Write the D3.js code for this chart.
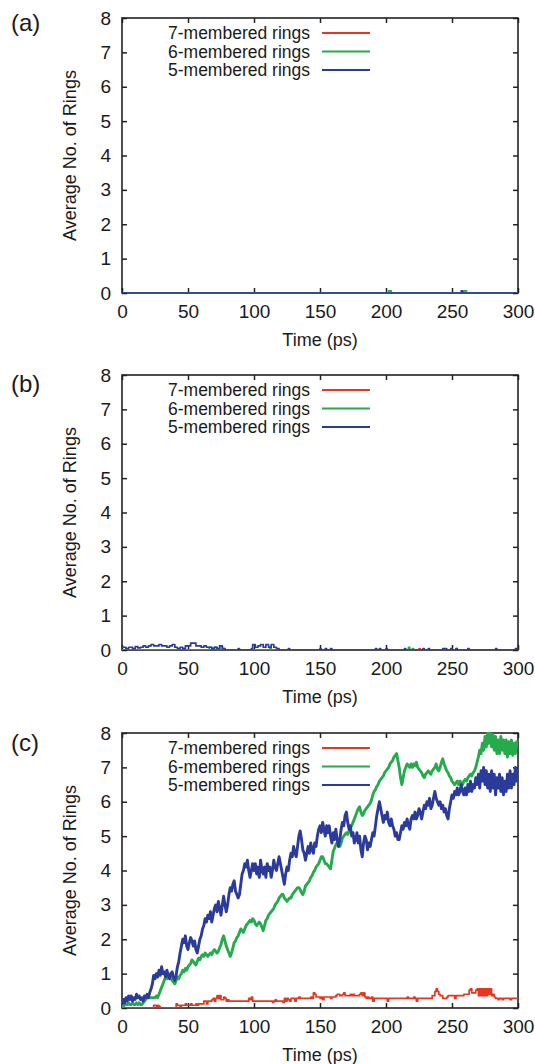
<!DOCTYPE html>
<html>
<head>
<meta charset="utf-8">
<script src="https://cdn.jsdelivr.net/npm/d3@7"></script>
<style>
	body {margin: 0; background: #fff}
	text {font-family: "Liberation Sans", Arial, sans-serif; fill: #1a1a1a}
</style>
</head>
<body>
<svg id="chart" width="535" height="1064"></svg>
<script>

var panelLabels = ['(a)', '(b)', '(c)']
var seriesNames = ['7-membered rings', '6-membered rings', '5-membered rings']
var seriesColors = ['#e5361f', '#25ab4c', '#2b3b9b']
var xTicks = [0, 50, 100, 150, 200, 250, 300]
var yTicks = [0, 1, 2, 3, 4, 5, 6, 7, 8]
var xTitle = 'Time (ps)'
var yTitle = 'Average No. of Rings'

// panels (a) and (b): sparse [time, value] steps, everything else is zero
var redA = [[0, 0], [300, 0]]
var greenA = [[0, 0], [202, 0.06], [204, 0], [259, 0.06], [261, 0], [300, 0]]
var blueA = [[0, 0], [257, 0.06], [258, 0], [300, 0]]

var redB = [[0, 0], [225, 0.04], [226, 0], [300, 0]]
var greenB = [[0, 0], [66, 0.08], [68, 0.04], [70, 0.08], [72, 0], [74, 0.12], [76, 0.04], [78, 0],
	[112, 0.08], [113, 0], [217, 0.08], [218, 0], [220, 0.04], [221, 0], [253, 0.04], [254, 0], [300, 0]]
var blueB = [[0, 0.08], [3, 0.04], [5, 0.08], [8, 0.04], [10, 0.1], [12, 0.06], [14, 0.08], [16, 0.12],
	[18, 0.08], [20, 0.12], [22, 0.16], [24, 0.12], [26, 0.12], [28, 0.16], [30, 0.12], [32, 0.12],
	[34, 0.08], [36, 0.12], [38, 0.16], [40, 0.08], [42, 0.04], [44, 0.08], [46, 0.04], [48, 0.12],
	[50, 0.12], [52, 0.2], [54, 0.2], [56, 0.12], [58, 0.12], [60, 0.08], [62, 0.12], [64, 0.08],
	[66, 0.08], [68, 0.04], [70, 0.08], [72, 0.04], [74, 0.12], [76, 0.04], [78, 0], [88, 0.04], [89, 0],
	[98, 0.04], [99, 0.16], [101, 0.08], [103, 0.12], [105, 0.16], [107, 0.08], [109, 0.16], [111, 0.08],
	[113, 0.16], [115, 0.08], [117, 0.04], [119, 0], [126, 0.04], [127, 0], [150, 0.04], [151, 0],
	[154, 0.04], [155, 0], [158, 0.04], [159, 0], [192, 0.04], [193, 0], [195, 0.04], [196, 0],
	[200, 0.04], [201, 0], [214, 0.04], [215, 0], [228, 0.04], [229, 0], [232, 0.04], [233, 0],
	[243, 0.04], [245, 0.04], [246, 0], [249, 0.04], [250, 0], [253, 0.04], [254, 0], [262, 0.04],
	[263, 0], [283, 0.04], [284, 0], [298, 0.04], [299, 0], [300, 0]]

// panel (c): one value per ps, t = 0..300
var redC = [
	0, 0, 0, 0, 0, 0, 0, 0, 0, 0,
	0, 0, 0, 0, 0, 0, 0, 0, 0, 0,
	0, 0, 0, 0, 0.08, 0.08, 0.04, 0.08, 0.04, 0,
	0, 0, 0, 0, 0, 0, 0, 0, 0, 0,
	0, 0.12, 0.08, 0.08, 0.04, 0.08, 0.08, 0.08, 0.12, 0.08,
	0.08, 0.08, 0.12, 0.08, 0.08, 0.08, 0.12, 0.08, 0.12, 0.12,
	0.12, 0.12, 0.2, 0.2, 0.12, 0.2, 0.2, 0.2, 0.24, 0.28,
	0.2, 0.28, 0.36, 0.28, 0.36, 0.24, 0.24, 0.32, 0.28, 0.2,
	0.24, 0.2, 0.2, 0.2, 0.2, 0.2, 0.2, 0.2, 0.2, 0.2,
	0.2, 0.2, 0.2, 0.2, 0.2, 0.2, 0.28, 0.24, 0.32, 0.2,
	0.2, 0.2, 0.2, 0.2, 0.2, 0.2, 0.2, 0.2, 0.2, 0.2,
	0.2, 0.2, 0.2, 0.2, 0.16, 0.2, 0.24, 0.2, 0.2, 0.2,
	0.2, 0.2, 0.16, 0.28, 0.2, 0.28, 0.24, 0.2, 0.28, 0.28,
	0.28, 0.2, 0.28, 0.28, 0.32, 0.28, 0.28, 0.28, 0.28, 0.28,
	0.28, 0.28, 0.28, 0.32, 0.28, 0.44, 0.4, 0.32, 0.32, 0.32,
	0.28, 0.32, 0.24, 0.32, 0.32, 0.32, 0.32, 0.32, 0.28, 0.32,
	0.32, 0.32, 0.36, 0.4, 0.4, 0.36, 0.36, 0.4, 0.44, 0.36,
	0.36, 0.36, 0.36, 0.4, 0.36, 0.4, 0.36, 0.36, 0.36, 0.36,
	0.4, 0.44, 0.36, 0.44, 0.32, 0.28, 0.32, 0.28, 0.28, 0.32,
	0.2, 0.28, 0.28, 0.28, 0.28, 0.28, 0.28, 0.28, 0.28, 0.28,
	0.28, 0.2, 0.28, 0.28, 0.28, 0.28, 0.28, 0.28, 0.28, 0.28,
	0.28, 0.28, 0.28, 0.28, 0.28, 0.28, 0.32, 0.28, 0.28, 0.28,
	0.28, 0.32, 0.28, 0.2, 0.28, 0.28, 0.28, 0.28, 0.28, 0.28,
	0.28, 0.28, 0.28, 0.28, 0.28, 0.36, 0.36, 0.48, 0.56, 0.48,
	0.4, 0.36, 0.36, 0.28, 0.28, 0.28, 0.32, 0.36, 0.36, 0.36,
	0.36, 0.36, 0.28, 0.36, 0.36, 0.36, 0.36, 0.36, 0.36, 0.4,
	0.4, 0.4, 0.4, 0.52, 0.56, 0.44, 0.44, 0.44, 0.52, 0.56,
	0.36, 0.56, 0.36, 0.56, 0.36, 0.56, 0.36, 0.56, 0.4, 0.56,
	0.36, 0.4, 0.32, 0.28, 0.28, 0.24, 0.28, 0.28, 0.24, 0.28,
	0.28, 0.28, 0.28, 0.28, 0.24, 0.28, 0.28, 0.28, 0.28, 0.28,
	0.28]

var greenC = [
	0.05, 0.05, 0.1, 0.1, 0.1, 0.15, 0.1, 0.1, 0.15, 0.1,
	0.1, 0.15, 0.1, 0.15, 0.1, 0.1, 0.15, 0.2, 0.25, 0.3,
	0.3, 0.3, 0.3, 0.3, 0.3, 0.3, 0.35, 0.3, 0.4, 0.5,
	0.6, 0.7, 0.8, 0.9, 0.85, 1.0, 0.95, 0.9, 0.8, 0.75,
	0.7, 0.8, 0.9, 0.85, 0.95, 1.0, 1.1, 1.05, 1.15, 1.1,
	1.2, 1.25, 1.3, 1.4, 1.35, 1.3, 1.25, 1.35, 1.45, 1.4,
	1.5, 1.55, 1.5, 1.6, 1.55, 1.5, 1.55, 1.6, 1.55, 1.65,
	1.7, 1.65, 1.6, 1.65, 1.75, 1.85, 2.0, 2.1, 1.95, 1.8,
	1.7, 1.6, 1.5, 1.6, 1.75, 1.9, 1.95, 2.05, 2.1, 2.2,
	2.3, 2.25, 2.2, 2.3, 2.4, 2.45, 2.5, 2.55, 2.5, 2.6,
	2.55, 2.45, 2.4, 2.45, 2.5, 2.45, 2.35, 2.25, 2.4, 2.55,
	2.6, 2.7, 2.75, 2.8, 2.85, 2.9, 3.0, 3.05, 3.1, 3.2,
	3.25, 3.3, 3.3, 3.2, 3.15, 3.1, 3.15, 3.2, 3.2, 3.3,
	3.35, 3.4, 3.45, 3.5, 3.5, 3.45, 3.35, 3.3, 3.4, 3.55,
	3.6, 3.65, 3.7, 3.8, 3.85, 3.95, 4.0, 4.1, 4.15, 4.2,
	4.3, 4.4, 4.4, 4.3, 4.2, 4.2, 4.15, 4.1, 4.05, 4.3,
	4.55, 4.65, 4.75, 4.8, 4.75, 4.7, 4.8, 4.95, 5.0, 5.05,
	5.1, 5.05, 5.15, 5.25, 5.3, 5.4, 5.5, 5.6, 5.7, 5.8,
	5.85, 5.7, 5.6, 5.65, 5.75, 5.8, 5.85, 5.9, 5.95, 6.05,
	6.2, 6.3, 6.35, 6.45, 6.5, 6.6, 6.65, 6.7, 6.75, 6.85,
	6.9, 6.95, 7.0, 7.1, 7.15, 7.2, 7.3, 7.35, 7.4, 7.2,
	7.0, 6.7, 6.5, 6.7, 6.9, 7.0, 7.1, 7.05, 7.0, 7.1,
	7.0, 7.1, 7.05, 7.15, 7.0, 6.95, 6.9, 6.85, 6.75, 6.7,
	6.8, 6.85, 6.9, 6.85, 6.8, 6.9, 6.95, 7.0, 7.1, 6.95,
	6.9, 7.0, 7.15, 7.25, 7.1, 7.0, 6.9, 6.85, 6.75, 6.7,
	6.6, 6.55, 6.5, 6.55, 6.6, 6.5, 6.6, 6.55, 6.5, 6.6,
	6.65, 6.6, 6.7, 6.75, 6.8, 6.75, 6.85, 6.9, 7.0, 7.15,
	7.3, 7.5, 7.4, 7.7, 7.5, 7.9, 7.6, 8.0, 7.7, 8.0,
	7.6, 7.95, 7.5, 7.9, 7.4, 7.8, 7.4, 7.9, 7.5, 7.8,
	7.4, 7.8, 7.3, 7.75, 7.4, 7.8, 7.35, 7.7, 7.4, 7.75,
	7.6]

var blueC = [
	0.1, 0.25, 0.15, 0.3, 0.2, 0.35, 0.25, 0.35, 0.2, 0.3,
	0.25, 0.4, 0.3, 0.35, 0.25, 0.3, 0.2, 0.35, 0.3, 0.4,
	0.3, 0.45, 0.55, 0.7, 0.95, 0.85, 1.0, 0.9, 1.1, 0.95,
	1.2, 1.0, 1.05, 0.9, 1.1, 0.95, 0.85, 1.0, 1.05, 0.9,
	0.8, 0.95, 1.2, 1.35, 1.6, 1.8, 2.0, 1.9, 2.1, 1.8,
	1.7, 1.9, 2.05, 1.95, 1.8, 1.95, 1.7, 1.6, 1.8, 2.0,
	2.1, 2.3, 2.4, 2.6, 2.5, 2.7, 2.6, 2.8, 2.5, 2.7,
	2.9, 3.0, 2.8, 3.1, 2.9, 2.7, 3.0, 3.25, 3.0, 2.8,
	3.0, 3.3, 3.5, 3.4, 3.6, 3.7, 3.4, 3.3, 3.2, 3.3,
	3.6, 3.9, 4.0, 4.2, 4.1, 4.3, 4.0, 3.8, 4.0, 4.2,
	4.0, 4.2, 3.9, 4.1, 3.8, 4.3, 4.0, 3.9, 4.1, 3.8,
	4.2, 4.0, 4.1, 3.8, 4.0, 4.3, 4.1, 4.0, 4.2, 4.4,
	4.2, 4.0, 3.8, 3.6, 3.9, 4.1, 4.0, 4.3, 4.5, 4.4,
	4.7, 4.5, 4.4, 4.7, 5.0, 5.15, 4.9, 4.6, 4.5, 4.3,
	4.5, 4.7, 4.5, 4.8, 4.6, 4.5, 4.8, 4.7, 5.0, 5.2,
	5.3, 5.1, 5.4, 5.2, 5.0, 5.3, 5.1, 5.3, 5.0, 4.8,
	5.1, 4.9, 5.2, 4.9, 4.7, 4.9, 5.2, 5.4, 5.3, 5.6,
	5.7, 5.4, 5.2, 5.3, 5.0, 5.1, 4.8, 4.9, 5.1, 4.8,
	5.0, 4.6, 4.4, 4.8, 5.0, 4.9, 4.6, 4.8, 4.7, 4.9,
	5.1, 5.0, 5.3, 5.6, 5.8, 6.0, 5.8, 5.6, 5.4, 5.6,
	5.5, 5.7, 5.4, 5.3, 5.5, 5.3, 5.2, 5.0, 5.1, 4.9,
	4.9, 5.1, 5.3, 5.2, 5.4, 5.3, 5.5, 5.3, 5.2, 5.5,
	5.6, 5.5, 5.7, 5.5, 5.6, 5.8, 5.7, 5.5, 5.7, 5.9,
	5.8, 6.0, 5.9, 6.1, 5.8, 5.9, 6.1, 6.3, 6.1, 6.0,
	5.9, 6.0, 5.8, 5.9, 5.7, 5.8, 5.6, 5.5, 5.8, 6.0,
	6.2, 6.1, 6.3, 6.2, 6.4, 6.2, 6.3, 6.5, 6.3, 6.2,
	6.4, 6.2, 6.5, 6.3, 6.6, 6.3, 6.5, 6.4, 6.7, 6.5,
	6.8, 6.4, 6.9, 6.6, 7.0, 6.5, 6.9, 6.4, 6.8, 6.3,
	6.9, 6.4, 6.8, 6.2, 6.7, 6.4, 6.8, 6.3, 6.7, 6.2,
	6.6, 6.3, 6.8, 6.4, 6.9, 6.4, 6.8, 6.5, 7.0, 6.6,
	6.9]

var toPairs = function(vals) {return vals.map(function(v, t) {return [t, v]})}

var panels = [
	{label: panelLabels[0], series: [redA, greenA, blueA], top: 18, labelY: 13},
	{label: panelLabels[1], series: [redB, greenB, blueB], top: 375, labelY: 17},
	{label: panelLabels[2], series: [toPairs(redC), toPairs(greenC), toPairs(blueC)], top: 733, labelY: 18}
]

var left = 122,
	w = 396,
	h = 275,
	tick = 5

var svg = d3.select('#chart')

var x = d3.scaleLinear().domain([0, 300]).range([0, w]),
	y = d3.scaleLinear().domain([0, 8]).range([h, 0])

var stepLine = d3.line()
	.x(function(d) {return x(d[0])})
	.y(function(d) {return y(d[1])})
	.curve(d3.curveStepAfter)

var noisyLine = d3.line()
	.x(function(d) {return x(d[0])})
	.y(function(d) {return y(d[1])})

panels.forEach(function(p, pi) {
	var g = svg.append('g').attr('transform', 'translate(' + left + ',' + p.top + ')')

	g.append('clipPath').attr('id', 'clip' + pi)
		.append('rect').attr('x', 0).attr('y', -1).attr('width', w).attr('height', h + 1)

	// axes with gnuplot-like inward ticks, mirrored on top/right
	var ax = [
		d3.axisBottom(x).tickValues(xTicks).tickSize(-tick).tickPadding(12),
		d3.axisTop(x).tickValues(xTicks).tickSize(-tick).tickFormat(''),
		d3.axisLeft(y).tickValues(yTicks).tickSize(-tick).tickPadding(11),
		d3.axisRight(y).tickValues(yTicks).tickSize(-tick).tickFormat('')
	]
	var pos = ['translate(0,' + h + ')', null, null, 'translate(' + w + ',0)']
	ax.forEach(function(a, i) {
		var ag = g.append('g').attr('transform', pos[i]).call(a)
		ag.select('.domain').remove()
		ag.selectAll('line').attr('stroke', '#222').attr('stroke-width', 1.5)
		ag.selectAll('text').attr('font-size', 19).attr('fill', '#1a1a1a')
			.style('font-family', '"Liberation Sans", Arial, sans-serif')
	})

	g.append('rect').attr('width', w).attr('height', h)
		.attr('fill', 'none').attr('stroke', '#222').attr('stroke-width', 1.6)

	g.append('g').attr('clip-path', 'url(#clip' + pi + ')')
		.selectAll('path')
		.data(p.series)
		.enter()
		.append('path')
		.attr('d', function(d, i) {return (pi == 2 && i > 0) ? noisyLine(d) : stepLine(d)})
		.attr('fill', 'none')
		.attr('stroke', function(d, i) {return seriesColors[i]})
		.attr('stroke-width', function(d, i) {return (pi == 2 && i > 0) ? 2.9 : 1.7})
		.attr('stroke-linejoin', 'round')

	// legend
	var lg = g.selectAll('.leg')
		.data(seriesNames)
		.enter()
		.append('g')
		.attr('class', 'leg')
		.attr('transform', function(d, i) {return 'translate(0,' + (15 + i * 18.5) + ')'})
	lg.append('text')
		.attr('x', 188).attr('dy', '0.35em')
		.attr('text-anchor', 'end').attr('font-size', 17.5)
		.text(function(d) {return d})
	lg.append('line')
		.attr('x1', 200).attr('x2', 248)
		.attr('stroke', function(d, i) {return seriesColors[i]})
		.attr('stroke-width', 1.8)

	g.append('text')
		.attr('x', w / 2).attr('y', h + 53)
		.attr('text-anchor', 'middle').attr('font-size', 18)
		.text(xTitle)

	g.append('text')
		.attr('transform', 'translate(-46,' + (h / 2) + ') rotate(-90)')
		.attr('text-anchor', 'middle').attr('font-size', 18)
		.text(yTitle)

	g.append('text')
		.attr('x', -111).attr('y', p.labelY)
		.attr('font-size', 24)
		.text(p.label)
})

</script>
</body>
</html>
